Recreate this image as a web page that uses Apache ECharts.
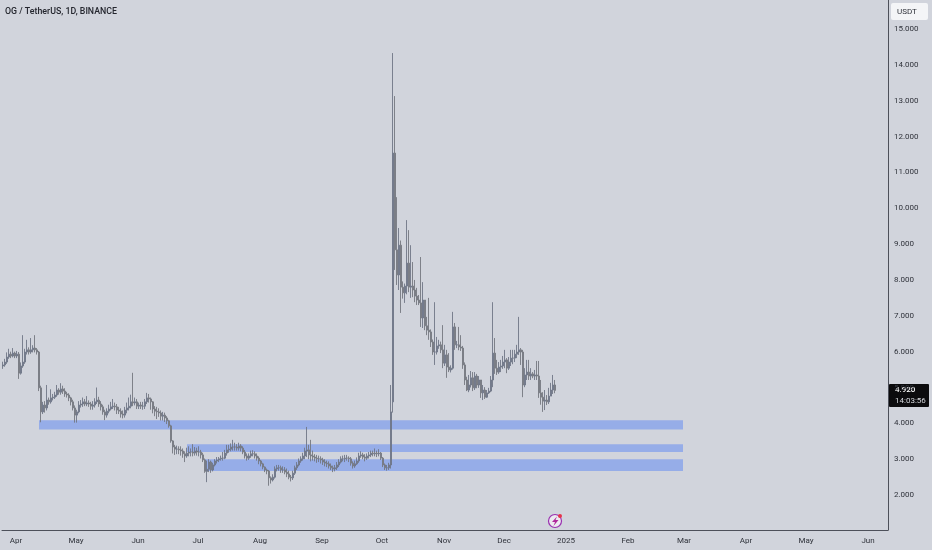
<!DOCTYPE html>
<html><head><meta charset="utf-8"><style>html,body{margin:0;padding:0;background:#d1d4dc}#c{width:932px;height:550px;filter:blur(0.45px)}</style>
<script src="https://cdn.jsdelivr.net/npm/echarts@6/dist/echarts.min.js"></script></head><body><div id="c"></div>
<script>
const firstDay='2024-03-26', dayCount=443;
const tickDates=['2024-04-01','2024-05-01','2024-06-01','2024-07-01','2024-08-01','2024-09-01','2024-10-01','2024-11-01','2024-12-01','2025-01-01','2025-02-01','2025-03-01','2025-04-01','2025-05-01','2025-06-01'];
const tickLabels=['Apr','May','Jun','Jul','Aug','Sep','Oct','Nov','Dec','2025','Feb','Mar','Apr','May','Jun'];
const priceTicks=[2,3,4,5,6,7,8,9,10,11,12,13,14,15];
const opens=[5.60,5.63,5.71,5.85,5.93,5.88,5.96,5.88,5.93,5.40,
5.60,5.71,5.99,6.05,5.99,6.05,6.10,6.05,5.99,4.99,
4.32,4.51,4.43,4.65,4.60,4.71,4.73,4.79,4.93,4.87,
4.96,4.90,4.82,4.79,4.71,4.60,4.43,4.23,4.32,4.51,
4.54,4.60,4.54,4.57,4.54,4.48,4.51,4.60,4.65,4.54,
4.46,4.32,4.23,4.34,4.40,4.46,4.48,4.46,4.37,4.34,
4.26,4.23,4.37,4.43,4.48,4.60,4.57,4.60,4.48,4.51,
4.48,4.48,4.60,4.71,4.68,4.60,4.40,4.34,4.32,4.29,
4.20,4.23,4.15,4.07,3.93,3.51,3.34,3.28,3.28,3.26,
3.23,3.15,3.09,3.17,3.20,3.20,3.17,3.23,3.20,3.20,
3.12,2.98,2.66,2.72,2.92,2.70,2.84,2.95,2.98,3.01,
3.03,3.03,3.17,3.26,3.28,3.34,3.34,3.34,3.31,3.37,
3.31,3.20,3.09,3.03,3.09,3.15,3.15,3.09,3.03,2.95,
2.87,2.78,2.70,2.67,2.48,2.42,2.50,2.73,2.76,2.76,
2.70,2.70,2.64,2.59,2.50,2.48,2.61,2.76,2.84,2.95,
3.01,3.09,3.23,3.26,3.12,3.09,3.06,3.03,3.01,3.01,
2.98,2.92,2.89,2.87,2.81,2.76,2.73,2.76,2.84,2.92,
3.01,3.01,3.03,3.03,3.01,2.89,2.81,2.87,2.95,3.09,
3.12,3.06,3.03,3.09,3.12,3.17,3.15,3.17,3.15,3.17,
3.03,2.84,2.76,2.76,2.84,4.60,11.54,8.84,8.14,8.97,
7.80,7.64,7.83,8.47,7.80,7.83,7.72,7.55,7.44,7.36,
6.94,7.44,6.72,6.60,6.55,6.27,5.99,5.99,6.16,6.19,
6.05,5.68,5.91,5.57,5.49,5.54,6.69,6.19,6.19,6.13,
6.10,5.63,5.21,4.93,5.07,5.27,4.99,5.32,5.07,5.21,
4.85,4.93,4.73,4.85,4.90,5.21,5.96,5.54,5.43,5.57,
5.60,5.71,5.77,5.54,5.71,5.82,5.82,5.93,5.99,6.05,
5.99,5.07,5.35,5.43,5.32,5.38,5.32,5.35,5.32,4.85,
4.73,4.62,4.65,4.60,4.76,4.93,5.07];
const closes=[5.63,5.71,5.85,5.93,5.88,5.96,5.88,5.93,5.40,5.60,
5.71,5.99,6.05,5.99,6.05,6.10,6.05,5.99,4.99,4.32,
4.51,4.43,4.65,4.60,4.71,4.73,4.79,4.93,4.87,4.96,
4.90,4.82,4.79,4.71,4.60,4.43,4.23,4.32,4.51,4.54,
4.60,4.54,4.57,4.54,4.48,4.51,4.60,4.65,4.54,4.46,
4.32,4.23,4.34,4.40,4.46,4.48,4.46,4.37,4.34,4.26,
4.23,4.37,4.43,4.48,4.60,4.57,4.60,4.48,4.51,4.48,
4.48,4.60,4.71,4.68,4.60,4.40,4.34,4.32,4.29,4.20,
4.23,4.15,4.07,3.93,3.51,3.34,3.28,3.28,3.26,3.23,
3.15,3.09,3.17,3.20,3.20,3.17,3.23,3.20,3.20,3.12,
2.98,2.66,2.72,2.92,2.70,2.84,2.95,2.98,3.01,3.03,
3.03,3.17,3.26,3.28,3.34,3.34,3.34,3.31,3.37,3.31,
3.20,3.09,3.03,3.09,3.15,3.15,3.09,3.03,2.95,2.87,
2.78,2.70,2.67,2.48,2.42,2.50,2.73,2.76,2.76,2.70,
2.70,2.64,2.59,2.50,2.48,2.61,2.76,2.84,2.95,3.01,
3.09,3.23,3.26,3.12,3.09,3.06,3.03,3.01,3.01,2.98,
2.92,2.89,2.87,2.81,2.76,2.73,2.76,2.84,2.92,3.01,
3.01,3.03,3.03,3.01,2.89,2.81,2.87,2.95,3.09,3.12,
3.06,3.03,3.09,3.12,3.17,3.15,3.17,3.15,3.17,3.03,
2.84,2.76,2.76,2.84,4.32,11.54,8.84,8.14,8.97,7.80,
7.64,7.83,8.47,7.80,7.83,7.72,7.55,7.44,7.36,6.94,
7.44,6.72,6.60,6.55,6.27,5.99,5.99,6.16,6.19,6.05,
5.68,5.91,5.57,5.49,5.54,6.69,6.19,6.19,6.13,6.10,
5.63,5.21,4.93,5.07,5.27,4.99,5.32,5.07,5.21,4.85,
4.93,4.73,4.85,4.90,5.21,5.96,5.54,5.43,5.57,5.60,
5.71,5.77,5.54,5.71,5.82,5.82,5.93,5.99,6.05,5.99,
5.07,5.35,5.43,5.32,5.38,5.32,5.35,5.32,4.85,4.73,
4.62,4.65,4.60,4.76,4.93,5.07,4.92];
const highs=[5.72,5.80,5.98,6.08,6.00,6.10,6.00,6.02,5.99,5.70,
6.46,6.08,6.33,6.12,6.38,6.18,6.46,6.10,6.02,5.05,
4.60,4.62,5.07,4.72,4.95,4.82,4.88,5.07,4.98,5.12,
5.05,4.98,4.88,4.84,4.74,4.66,4.50,4.38,4.62,4.65,
4.72,4.68,4.76,4.64,4.60,4.62,4.70,5.00,4.74,4.62,
4.52,4.38,4.42,4.52,4.60,4.68,4.58,4.54,4.46,4.42,
4.36,4.46,4.58,4.72,4.80,5.41,4.72,4.68,4.58,4.60,
4.60,4.68,4.85,4.82,4.72,4.62,4.48,4.46,4.42,4.36,
4.32,4.30,4.20,4.10,3.96,3.53,3.40,3.38,3.36,3.36,
3.30,3.22,3.32,3.36,3.30,3.42,3.34,3.32,3.36,3.26,
3.18,3.02,2.96,3.00,2.96,2.90,3.00,3.06,3.06,3.10,
3.20,3.26,3.40,3.40,3.44,3.54,3.46,3.42,3.46,3.42,
3.36,3.26,3.16,3.16,3.24,3.25,3.22,3.16,3.08,2.98,
2.90,2.80,2.74,2.70,2.52,2.58,2.80,2.84,2.84,2.82,
2.80,2.78,2.74,2.68,2.56,2.68,2.82,2.92,3.02,3.08,
3.18,3.32,3.90,3.40,3.54,3.24,3.14,3.12,3.10,3.08,
3.04,3.00,2.96,2.94,2.88,2.82,2.84,2.92,3.00,3.08,
3.10,3.12,3.12,3.08,3.06,2.94,2.96,3.05,3.18,3.22,
3.18,3.14,3.16,3.20,3.24,3.24,3.30,3.24,3.28,3.20,
3.06,2.88,2.84,2.90,5.07,14.33,13.13,10.31,9.45,9.10,
7.96,7.90,9.67,9.39,8.97,8.50,8.00,7.78,7.58,8.64,
7.94,7.44,6.97,7.50,6.62,6.34,7.38,6.41,6.33,6.28,
6.74,6.19,6.05,5.96,5.62,7.11,6.80,6.30,6.69,6.46,
6.16,5.70,5.30,5.35,5.46,5.43,5.43,5.38,5.32,5.21,
5.07,5.01,4.93,4.99,5.32,7.38,6.38,5.77,5.71,5.77,
5.88,6.05,5.82,5.85,6.05,6.05,6.05,6.19,6.97,6.10,
6.05,5.54,5.77,5.77,5.54,5.43,5.49,5.74,5.74,5.21,
4.87,4.93,4.79,4.99,5.13,5.35,5.21];
const lows=[5.52,5.58,5.66,5.80,5.82,5.84,5.82,5.82,5.24,5.36,
5.55,5.66,5.92,5.92,5.94,5.98,5.98,5.92,4.90,4.03,
4.26,4.30,4.36,4.52,4.55,4.64,4.68,4.74,4.80,4.80,
4.82,4.74,4.72,4.62,4.50,4.36,4.02,4.02,4.28,4.44,
4.46,4.48,4.48,4.46,4.38,4.38,4.44,4.54,4.46,4.36,
4.24,4.09,4.16,4.28,4.36,4.40,4.36,4.26,4.26,4.16,
4.14,4.16,4.28,4.36,4.42,4.48,4.50,4.40,4.40,4.40,
4.38,4.40,4.54,4.58,4.38,4.28,4.20,4.12,4.18,4.08,
4.08,4.04,3.98,3.88,3.46,3.16,3.12,3.14,3.14,3.10,
3.04,2.92,3.04,3.08,3.08,3.08,3.10,3.10,3.08,3.02,
2.92,2.62,2.36,2.64,2.62,2.66,2.80,2.88,2.92,2.96,
2.96,3.00,3.10,3.18,3.22,3.24,3.24,3.24,3.24,3.22,
3.14,3.02,2.96,2.98,3.04,3.08,3.02,2.96,2.86,2.80,
2.72,2.64,2.58,2.26,2.32,2.38,2.46,2.66,2.68,2.62,
2.62,2.58,2.50,2.44,2.38,2.42,2.56,2.70,2.80,2.90,
2.96,3.00,3.06,3.00,2.94,2.96,2.94,2.90,2.92,2.88,
2.84,2.80,2.78,2.74,2.70,2.64,2.66,2.70,2.78,2.88,
2.94,2.92,2.96,2.92,2.82,2.74,2.76,2.84,2.90,3.04,
3.00,2.94,2.98,3.02,3.06,3.08,3.08,3.06,3.08,2.98,
2.78,2.70,2.68,2.70,2.74,4.30,8.28,7.86,7.72,7.08,
7.48,7.36,7.60,7.66,7.50,7.52,7.38,7.30,7.30,6.69,
6.66,6.60,6.46,6.33,6.13,5.91,5.63,5.92,6.08,5.96,
5.54,5.60,5.27,5.43,5.42,5.50,6.05,6.10,6.04,6.02,
5.52,5.07,4.90,4.87,5.00,4.90,4.93,4.98,4.99,4.71,
4.65,4.68,4.71,4.82,4.87,5.01,5.38,5.35,5.38,5.43,
5.52,5.54,5.40,5.49,5.60,5.65,5.71,5.82,5.91,5.63,
4.73,5.01,5.21,5.21,5.21,5.26,5.21,5.21,4.71,4.52,
4.32,4.37,4.51,4.54,4.76,4.82,4.84];
const bandFrom=['2024-04-13','2024-06-26','2024-07-05'];
const bandTo=['2025-03-01','2025-03-01','2025-03-01'];
const bandTop=[4.09,3.42,3.00];
const bandBottom=[3.83,3.20,2.67];
const lastPrice='4.920', countdown='14:03:56', pair='OG / TetherUS, 1D, BINANCE', unit='USDT';

const categories=[];
{const d=new Date(firstDay+'T00:00:00Z');
 for(let i=0;i<dayCount;i++){categories.push(new Date(d.getTime()+i*864e5).toISOString().slice(0,10));}}
const candles=closes.map((c,i)=>[opens[i],c,lows[i],highs[i]]);
const font='Roboto, sans-serif', ink='#2f323a';
const chart=echarts.init(document.getElementById('c'),null,{renderer:'canvas'});
chart.setOption({
 animation:false,backgroundColor:'#d1d4dc',
 grid:{left:2,right:44,top:0,bottom:20,containLabel:false},
 xAxis:{type:'category',data:categories,boundaryGap:true,
  axisLine:{lineStyle:{color:'#4d505a',width:1}},axisTick:{show:false},splitLine:{show:false},
  axisLabel:{color:ink,fontFamily:font,fontSize:8,margin:7,padding:[0,0,0,2],hideOverlap:false,
   interval:(i,v)=>tickDates.includes(v),
   formatter:v=>tickLabels[tickDates.indexOf(v)]||''}},
 yAxis:{type:'value',position:'right',min:1.025,max:15.81,scale:true,
  axisLine:{show:true,lineStyle:{color:'#4d505a',width:1}},axisTick:{show:false},splitLine:{show:false},
  axisLabel:{color:ink,fontFamily:font,fontSize:8,margin:6,padding:[3,0,0,0],customValues:priceTicks,formatter:v=>v.toFixed(3)}},
 series:[
  {type:'line',data:[],silent:true,z:1,
   markArea:{silent:true,itemStyle:{color:'#96ade8'},
    data:bandTop.map((t,i)=>[{xAxis:bandFrom[i],yAxis:t},{xAxis:bandTo[i],yAxis:bandBottom[i]}])}},
  {type:'candlestick',data:candles,z:3,barWidth:2.2,silent:true,
   itemStyle:{color:'#6a7ba8',color0:'#a3a6ae',borderColor:'#6f7686',borderColor0:'#74777f',borderWidth:0.9}}
 ],
 graphic:[
  {type:'text',left:5,top:7,silent:true,style:{text:pair,fill:'#24262e',fontFamily:font,fontSize:8.8,fontWeight:500}},
  {type:'rect',shape:{x:891,y:3,width:37,height:17,r:2},style:{fill:'#f4f5f7'},silent:true},
  {type:'text',left:897,top:8,silent:true,style:{text:unit,fill:ink,fontFamily:font,fontSize:8}},
  {type:'rect',shape:{x:889,y:384,width:40,height:23,r:1},style:{fill:'#0b0b0d'},silent:true},
  {type:'text',left:895,top:386,silent:true,style:{text:lastPrice,fill:'#ffffff',fontFamily:font,fontSize:8,fontWeight:500}},
  {type:'text',left:895,top:397,silent:true,style:{text:countdown,fill:'#d6d8dd',fontFamily:font,fontSize:8}},
  {type:'circle',shape:{cx:555,cy:521,r:6.5},style:{fill:'#eceaf0',stroke:'#9a2fb0',lineWidth:1.2},silent:true},
  {type:'polygon',shape:{points:[[557,516.5],[552,522],[555,522],[553.5,526],[558.5,520],[555.5,520]]},style:{fill:'#b0289c'},silent:true},
  {type:'circle',shape:{cx:560,cy:516,r:2},style:{fill:'#e5334b'},silent:true}
 ]
});
</script></body></html>
